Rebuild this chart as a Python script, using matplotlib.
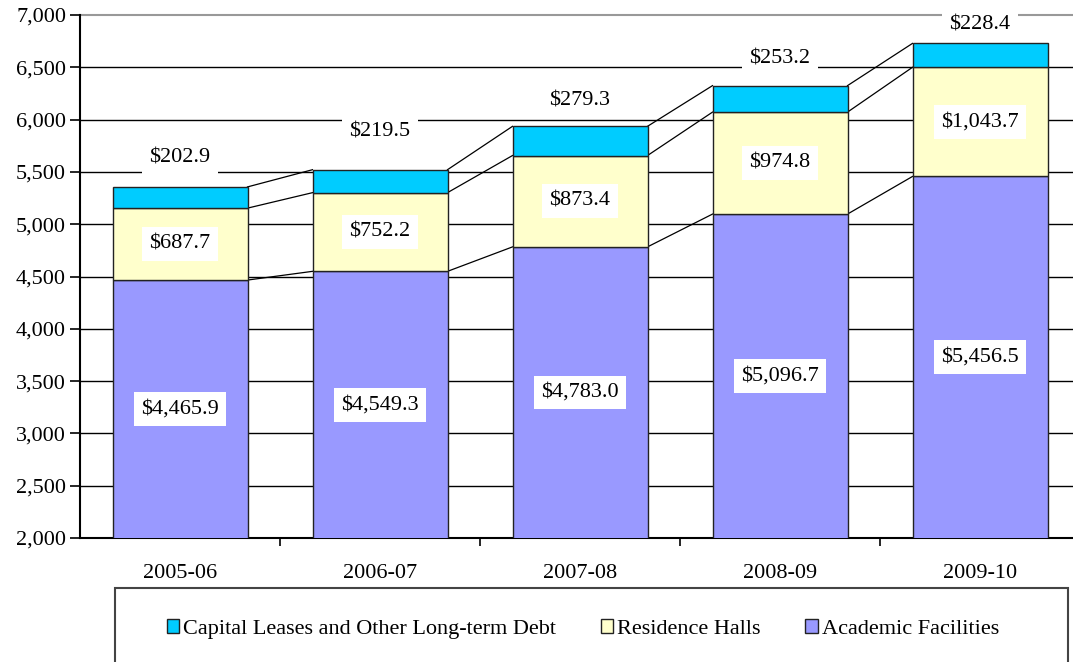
import matplotlib
matplotlib.use("Agg")
import matplotlib.pyplot as plt
from matplotlib.patches import Rectangle

years = ["2005-06", "2006-07", "2007-08", "2008-09", "2009-10"]
academic = [4465.9, 4549.3, 4783.0, 5096.7, 5456.5]
residence = [687.7, 752.2, 873.4, 974.8, 1043.7]
capital = [202.9, 219.5, 279.3, 253.2, 228.4]
series_names = ["Capital Leases and Other Long-term Debt", "Residence Halls", "Academic Facilities"]
y_min, y_max, y_step = 2000, 7000, 500

# style only: vertical offsets (points) for the top labels
top_label_offsets = [20.5, 27, 18.5, 19.5, 13.5]

plt.rcParams['font.family'] = ['Liberation Serif', 'DejaVu Serif']

fig = plt.figure(figsize=(10.73, 6.62), dpi=100)
ax = fig.add_axes([80/1073, 1-538/662, 1000/1073, (538-15)/662])

c_acad, c_res, c_cap = "#9999FF", "#FFFFCC", "#00CCFF"
width = 0.675
x = list(range(len(years)))
b1 = ax.bar(x, academic, width, color=c_acad, edgecolor="#222222", linewidth=1.0, zorder=3)
bot2 = academic
b2 = ax.bar(x, residence, width, bottom=bot2, color=c_res, edgecolor="#222222", linewidth=1.0, zorder=3)
bot3 = [a + r for a, r in zip(academic, residence)]
b3 = ax.bar(x, capital, width, bottom=bot3, color=c_cap, edgecolor="#222222", linewidth=1.0, zorder=3)
tops = [b + c for b, c in zip(bot3, capital)]

# series lines
for levels in (academic, bot3, tops):
    for i in range(len(x) - 1):
        ax.plot([x[i] + width/2, x[i+1] - width/2], [levels[i], levels[i+1]],
                color="black", lw=0.9, zorder=2)

box = dict(boxstyle="square,pad=0.33", fc="white", ec="none")
fs = 16
for i in x:
    ac = (y_min + academic[i]) / 2
    ax.text(i, ac, f"${academic[i]:,.1f}", ha="center", va="center", fontsize=fs, bbox=box, zorder=5)
    ax.text(i, academic[i] + residence[i]/2, f"${residence[i]:,.1f}", ha="center", va="center",
            fontsize=fs, bbox=box, zorder=5)
    ax.annotate(f"${capital[i]:,.1f}", (i, tops[i]), xytext=(0, top_label_offsets[i]),
                textcoords="offset points", ha="center", va="center", fontsize=fs,
                bbox=box, zorder=5)

ax.set_ylim(y_min, y_max)
ax.set_xlim(-0.5, len(years) - 0.5)
yt = list(range(y_min, y_max + 1, y_step))
ax.set_yticks(yt)
ax.set_yticklabels([f"{v:,}" for v in yt], fontsize=fs)
ax.set_xticks(x)
ax.set_xticklabels(years, fontsize=fs)
ax.tick_params(axis="x", length=0, pad=18.5)
ax.set_xticks([i + 0.5 for i in x[:-1]], minor=True)
ax.tick_params(axis="x", which="minor", length=6, width=1.2, direction="out")
ax.tick_params(axis="y", length=7, width=1.2, direction="out", pad=3)
for v in yt[1:-1]:
    ax.axhline(v, color="black", lw=1.0, zorder=1)
ax.axhline(y_max, color="#999999", lw=1.5, zorder=1, clip_on=False)
for s in ("top", "right"):
    ax.spines[s].set_visible(False)
ax.spines["left"].set_linewidth(1.5)
ax.spines["bottom"].set_linewidth(1.5)

# legend box
fig.patches.append(Rectangle((115/1073, -0.01), (1068-115)/1073, (662-588)/662 + 0.01,
                             transform=fig.transFigure, fill=False, ec="#444444", lw=1.5))
handles = [b3, b2, b1]
fig.legend(handles, series_names, loc="center", bbox_to_anchor=(583/1073, 1-629/662),
           ncol=3, frameon=False, fontsize=16, handlelength=0.55, handleheight=0.55,
           handletextpad=0.2, columnspacing=2.0)

fig.savefig("out.png", dpi=100)
